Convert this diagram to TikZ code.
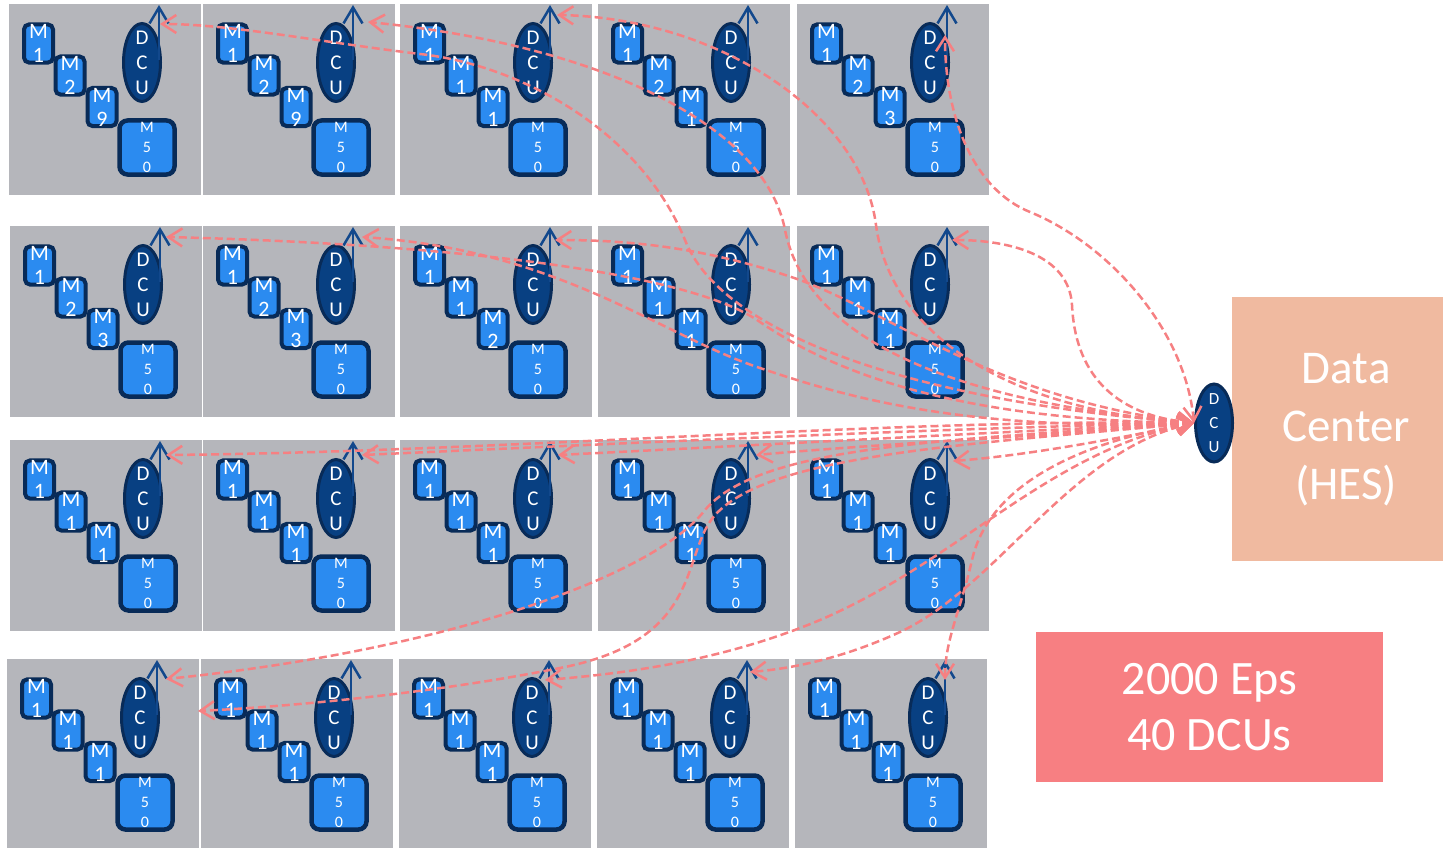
\documentclass[tikz,border=0pt]{standalone}
\usepackage{fontspec}
\setmainfont{Carlito}
\usetikzlibrary{arrows.meta,shapes.geometric}

\definecolor{tilegray}{RGB}{181,182,187}
\definecolor{mblue}{RGB}{43,139,240}
\definecolor{mnavy}{RGB}{8,43,88}
\definecolor{dcublue}{RGB}{8,64,130}
\definecolor{antblue}{RGB}{18,72,140}
\definecolor{linkred}{RGB}{246,128,130}
\definecolor{hespeach}{RGB}{240,186,160}
\definecolor{epsred}{RGB}{247,127,130}

\begin{document}
\begin{tikzpicture}[x=1pt,y=-1pt,
  tilebg/.style={fill=tilegray,minimum width=192pt,minimum height=191pt,inner sep=0pt,anchor=north west},
  mbox/.style={draw=mnavy,fill=mblue,line width=4pt,rounded corners=5pt,minimum width=29pt,minimum height=37pt,inner sep=0pt,text=white,align=center,font=\fontsize{22}{24}\selectfont},
  bigbox/.style={mbox,line width=4.5pt,rounded corners=8pt,minimum width=55pt,minimum height=54pt,font=\fontsize{16}{20}\selectfont},
  dcu/.style={ellipse,draw=mnavy,fill=dcublue,line width=3pt,minimum width=37pt,minimum height=78pt,inner sep=0pt},
  dcutext/.style={text=white,align=center,inner sep=0pt,font=\fontsize{21}{25}\selectfont},
  antenna/.style={draw=antblue,line width=2.5pt,-{Straight Barb[length=16pt,width=19pt]}},
  link/.style={draw=linkred,line width=2.5pt,dash pattern=on 8pt off 4pt,{Straight Barb[length=14pt,width=18pt]}-{Straight Barb[length=14pt,width=18pt]}}]
  \useasboundingbox (0,0) rectangle (1443,848);

  \foreach \row/\col/\tx/\ty/\ma/\mb/\mc in {
      1/1/9/4/1/2/9, 1/2/203/4/1/2/9, 1/3/400/4/1/1/1, 1/4/598/4/1/2/1, 1/5/797/4/1/2/3,
      2/1/10/226/1/2/3, 2/2/203/226/1/2/3, 2/3/400/226/1/1/2, 2/4/598/226/1/1/1, 2/5/797/226/1/1/1,
      3/1/10/440/1/1/1, 3/2/203/440/1/1/1, 3/3/400/440/1/1/1, 3/4/598/440/1/1/1, 3/5/797/440/1/1/1,
      4/1/7/659/1/1/1, 4/2/201/659/1/1/1, 4/3/399/659/1/1/1, 4/4/597/659/1/1/1, 4/5/795/659/1/1/1} {
    \begin{scope}[shift={(\tx,\ty)}]
      \node[tilebg] (tile-\row-\col) at (0,0) {};
      \node[mbox] (m1-\row-\col) at (29.5,39.5) {M\\\ma};
      \node[mbox] (m2-\row-\col) at (61,71.5) {M\\\mb};
      \node[mbox] (m3-\row-\col) at (93,103) {M\\\mc};
      \node[bigbox] (m50-\row-\col) at (138,143.5) {M\\5\\0};
      \node[dcu,label={[dcutext]center:{D\\C\\U}}] (dcu-\row-\col) at (133,58.5) {};
      \draw[antenna] (150,56) -- (150,1);
    \end{scope}
  }

  \node[fill=hespeach,minimum width=228pt,minimum height=264pt,anchor=north west,inner sep=0pt,
        text=white,align=center,font=\fontsize{47}{58}\selectfont] (hes) at (1232,297) {Data\\Center\\(HES)};
  \node[fill=epsred,minimum width=347pt,minimum height=150pt,inner sep=0pt,
        text=white,align=center,font=\fontsize{48}{56}\selectfont] (eps) at (1209.5,707) {2000 Eps\\40 DCUs};
  \node[dcu,minimum height=78pt,label={[dcutext,font=\fontsize{17}{24}\selectfont]center:{D\\C\\U}}] (hub) at (1214,423) {};

  \coordinate (tip-1-1) at (160,24);
  \coordinate (tip-1-2) at (368,22);
  \coordinate (tip-1-3) at (557,15);
  \coordinate (tip-1-5) at (945,35);
  \coordinate (tip-2-1) at (166,237);
  \coordinate (tip-2-2) at (362,237);
  \coordinate (tip-2-3) at (555,240);
  \coordinate (tip-2-5) at (952,240);
  \coordinate (tip-3-1) at (166,455);
  \coordinate (tip-3-2) at (362,455);
  \coordinate (tip-3-3) at (558,455);
  \coordinate (tip-3-4) at (756,455);
  \coordinate (tip-3-5) at (953,461);
  \coordinate (tip-4-1) at (166,679);
  \coordinate (tip-4-2) at (198,711);
  \coordinate (tip-4-3) at (545,680);
  \coordinate (tip-4-4) at (750,672);
  \coordinate (tip-4-5) at (945,680);

  \draw[link] (hub.west) .. controls (900,400) and (720,330) .. (685,240) .. controls (640,130) and (520,65) .. (420,54) .. controls (320,42) and (230,24) .. (tip-1-1);
  \draw[link] (hub.west) .. controls (930,400) and (805,330) .. (785,230) .. controls (765,125) and (600,45) .. (tip-1-2);
  \draw[link] (hub.west) .. controls (1000,410) and (890,330) .. (876,225) .. controls (862,115) and (720,18) .. (tip-1-3);
  \draw[link] (hub.west) .. controls (1185,330) and (1110,245) .. (1030,212) .. controls (975,190) and (945,120) .. (tip-1-5);
  \draw[link] (hub.west) .. controls (950,420) and (830,370) .. (760,322) .. controls (690,272) and (450,244) .. (tip-2-1);
  \draw[link] (hub.west) .. controls (960,432) and (840,395) .. (760,368) .. controls (660,335) and (560,250) .. (tip-2-2);
  \draw[link] (hub.west) .. controls (1000,400) and (900,318) .. (800,280) .. controls (700,245) and (620,240) .. (tip-2-3);
  \draw[link] (hub.west) .. controls (1110,415) and (1075,370) .. (1072,305) .. controls (1069,255) and (1010,240) .. (tip-2-5);
  \draw[link] (hub.west) .. controls (900,418) and (500,452) .. (tip-3-1);
  \draw[link] (hub.west) .. controls (950,428) and (700,440) .. (tip-3-2);
  \draw[link] (hub.west) .. controls (1000,432) and (760,445) .. (tip-3-3);
  \draw[link] (hub.west) .. controls (1060,436) and (900,442) .. (tip-3-4);
  \draw[link] (hub.west) .. controls (1100,442) and (1020,456) .. (tip-3-5);
  \draw[link] (hub.west) .. controls (950,440) and (760,445) .. (705,510) .. controls (655,575) and (450,650) .. (tip-4-1);
  \draw[link] (hub.west) .. controls (960,445) and (770,455) .. (715,515) .. controls (680,555) and (705,640) .. (560,668) .. controls (440,692) and (300,706) .. (tip-4-2);
  \draw[link] (hub.west) .. controls (1050,450) and (960,560) .. (820,620) .. controls (720,662) and (620,674) .. (tip-4-3);
  \draw[link] (hub.west) .. controls (1070,450) and (1000,585) .. (900,632) .. controls (850,655) and (800,668) .. (tip-4-4);
  \draw[link] (hub.west) .. controls (1090,440) and (990,480) .. (972,560) .. controls (960,612) and (945,640) .. (tip-4-5);
\end{tikzpicture}
\end{document}
